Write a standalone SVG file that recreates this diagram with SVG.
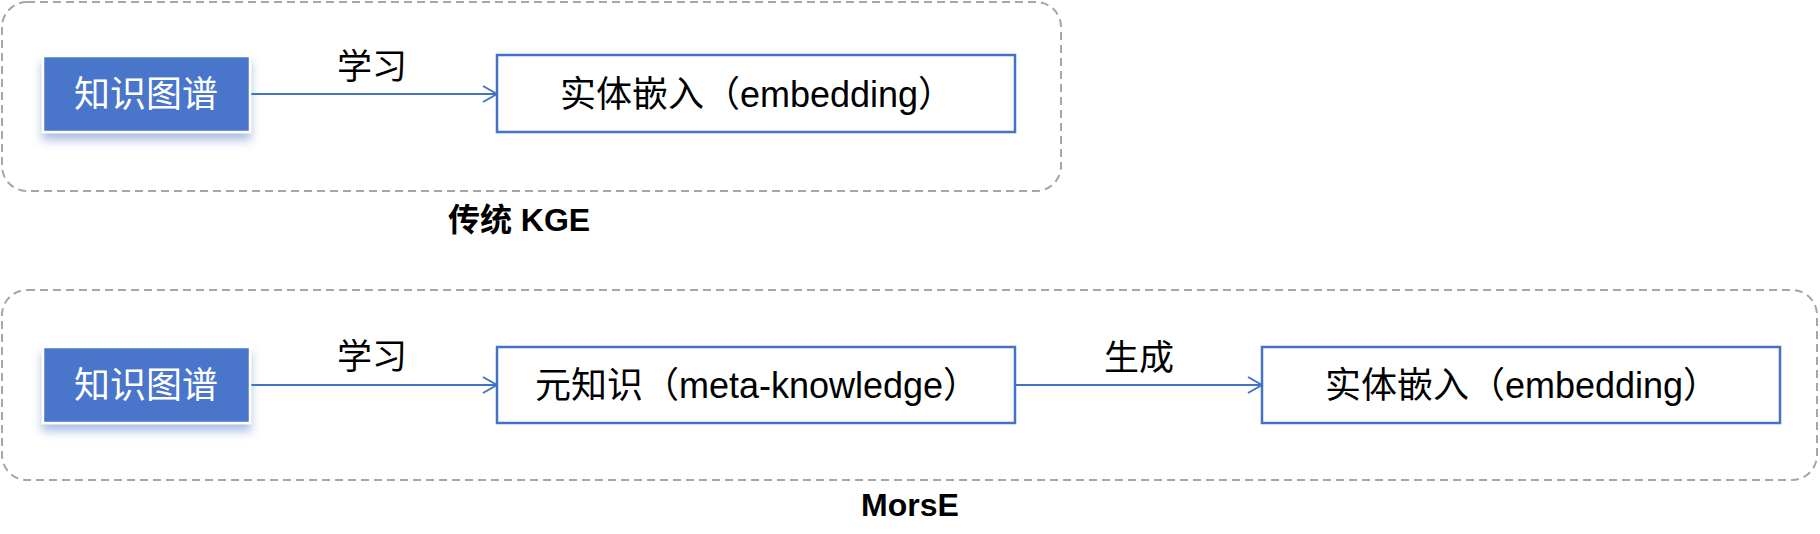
<svg xmlns="http://www.w3.org/2000/svg" width="1820" height="534" viewBox="0 0 1820 534">
  <style>
    .grp { fill: none; stroke: #A6A6A6; stroke-width: 2; stroke-dasharray: 8 5; }
    .kg { fill: #4874CB; stroke: #FFFFFF; stroke-width: 2.5; filter: url(#shadow); }
    .box { fill: #FFFFFF; stroke: #4472C4; stroke-width: 2.5; }
    .conn { stroke: #4472C4; stroke-width: 2; fill: none; marker-end: url(#arrow); }
    text { font-family: "Liberation Sans", "Noto Sans CJK SC", sans-serif; }
    .kgt { fill: #FFFFFF; font-size: 36px; text-anchor: middle; }
    .bt { fill: #000000; font-size: 36px; text-anchor: middle; }
    .lbl { fill: #000000; font-size: 35px; text-anchor: middle; }
    .cap { fill: #000000; font-size: 32px; font-weight: bold; text-anchor: middle; }
  </style>
  <defs>
    <filter id="shadow" x="-20%" y="-30%" width="140%" height="170%">
      <feDropShadow dx="0" dy="7" stdDeviation="5" flood-color="#4472C4" flood-opacity="0.45"/>
    </filter>
    <marker id="arrow" viewBox="0 0 16 18" refX="15" refY="9" markerWidth="16" markerHeight="18" markerUnits="userSpaceOnUse" orient="auto">
      <path d="M1,1 L15,9 L1,17" fill="none" stroke="#4472C4" stroke-width="2"/>
    </marker>
  </defs>

  <g id="group-kge">
    <rect class="grp" x="2" y="2" width="1059" height="189" rx="25" ry="25"/>
    <text class="cap" x="519" y="231">传统 KGE</text>
  </g>
  <g id="group-morse">
    <rect class="grp" x="2" y="290" width="1815" height="190" rx="25" ry="25"/>
    <text class="cap" x="910" y="516">MorsE</text>
  </g>

  <g id="connectors">
    <line class="conn" x1="250" y1="94" x2="497" y2="94"/>
    <text class="lbl" x="372" y="79">学习</text>
    <line class="conn" x1="250" y1="385" x2="497" y2="385"/>
    <text class="lbl" x="372" y="369">学习</text>
    <line class="conn" x1="1015" y1="385" x2="1262" y2="385"/>
    <text class="lbl" x="1139" y="370">生成</text>
  </g>

  <g id="kg1">
    <rect class="kg" x="43" y="56" width="207" height="76"/>
    <text class="kgt" x="146" y="107">知识图谱</text>
  </g>
  <g id="emb1">
    <rect class="box" x="497" y="55" width="518" height="77"/>
    <text class="bt" x="757" y="107">实体嵌入（embedding）</text>
  </g>

  <g id="kg2">
    <rect class="kg" x="43" y="347" width="207" height="76"/>
    <text class="kgt" x="146" y="398">知识图谱</text>
  </g>
  <g id="meta">
    <rect class="box" x="497" y="347" width="518" height="76"/>
    <text class="bt" x="757" y="398">元知识（meta-knowledge）</text>
  </g>
  <g id="emb2">
    <rect class="box" x="1262" y="347" width="518" height="76"/>
    <text class="bt" x="1522" y="398">实体嵌入（embedding）</text>
  </g>
</svg>
